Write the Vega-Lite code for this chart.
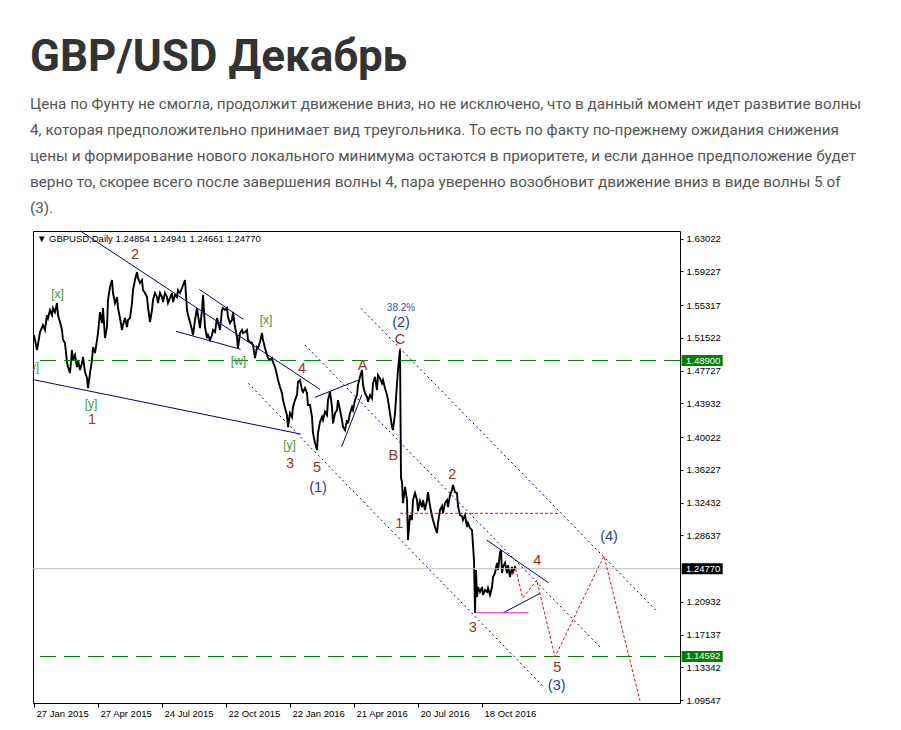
{
"$schema": "https://vega.github.io/schema/vega-lite/v6.json",
"width": 647, "height": 472,
"autosize": {"type": "none"},
"padding": {"left": 33, "top": 231, "right": 221, "bottom": 27},
"background": "#ffffff",
"title": {
 "text": "GBP/USD Декабрь",
 "subtitle": ["Цена по Фунту не смогла, продолжит движение вниз, но не исключено, что в данный момент идет развитие волны", "4, которая предположительно принимает вид треугольника.  То есть по факту по-прежнему ожидания снижения", "цены и формирование нового локального минимума остаются в приоритете, и если данное предположение будет", "верно то, скорее всего после завершения волны 4, пара уверенно возобновит движение вниз в виде волны 5 of", "(3)."],
 "anchor": "start", "frame": "group", "orient": "top",
 "font": "Roboto", "fontSize": 44, "fontWeight": "bold", "color": "#333333",
 "subtitleFont": "Roboto", "subtitleFontSize": 15.3, "subtitleColor": "#555555", "subtitleLineHeight": 26, "subtitlePadding": 17,
 "offset": 14, "dx": -3
},
"config": {
 "view": {"stroke": "#000000", "strokeWidth": 1, "fill": "#ffffff"},
 "axis": {"domain": false, "grid": false, "labelFont": "Liberation Sans", "labelFontSize": 9.5, "labelColor": "#000000", "tickColor": "#000000", "labelFlush": false, "labelOverlap": false, "labelBound": false}
},
"datasets": {
 "price": [
{"b":0,"p":1.5186},{"b":2,"p":1.5070},{"b":3,"p":1.5012},{"b":6,"p":1.5221},{"b":9,"p":1.5302},{"b":11,"p":1.5244},{"b":13,"p":1.5418},{"b":14,"p":1.5383},{"b":16,"p":1.5476},{"b":18,"p":1.5418},{"b":19,"p":1.5499},{"b":21,"p":1.5452},{"b":23,"p":1.5557},{"b":24,"p":1.5418},{"b":26,"p":1.5337},{"b":28,"p":1.5244},{"b":29,"p":1.5128},{"b":31,"p":1.5093},{"b":33,"p":1.4873},{"b":34,"p":1.4815},{"b":36,"p":1.4745},{"b":38,"p":1.5012},{"b":39,"p":1.4896},{"b":41,"p":1.4954},{"b":43,"p":1.4815},{"b":44,"p":1.4896},{"b":46,"p":1.4780},{"b":48,"p":1.4861},{"b":49,"p":1.4931},{"b":51,"p":1.4757},{"b":53,"p":1.4687},{"b":54,"p":1.4571},{"b":56,"p":1.4745},{"b":58,"p":1.4896},{"b":59,"p":1.5047},{"b":61,"p":1.4977},{"b":63,"p":1.5128},{"b":64,"p":1.5209},{"b":66,"p":1.5452},{"b":68,"p":1.5325},{"b":69,"p":1.5499},{"b":71,"p":1.5151},{"b":73,"p":1.5279},{"b":74,"p":1.5592},{"b":76,"p":1.5742},{"b":78,"p":1.5823},{"b":79,"p":1.5673},{"b":81,"p":1.5557},{"b":83,"p":1.5626},{"b":84,"p":1.5499},{"b":86,"p":1.5383},{"b":88,"p":1.5244},{"b":89,"p":1.5302},{"b":91,"p":1.5383},{"b":93,"p":1.5279},{"b":94,"p":1.5360},
{"b":96,"p":1.5383},{"b":98,"p":1.5557},{"b":99,"p":1.5708},{"b":101,"p":1.5823},{"b":103,"p":1.5916},{"b":104,"p":1.5847},{"b":106,"p":1.5789},{"b":108,"p":1.5823},{"b":109,"p":1.5708},{"b":111,"p":1.5673},{"b":113,"p":1.5626},{"b":114,"p":1.5510},{"b":116,"p":1.5337},{"b":118,"p":1.5476},{"b":119,"p":1.5592},{"b":121,"p":1.5673},{"b":123,"p":1.5626},{"b":124,"p":1.5557},{"b":126,"p":1.5673},{"b":128,"p":1.5626},{"b":129,"p":1.5568},{"b":131,"p":1.5673},{"b":133,"p":1.5626},{"b":134,"p":1.5557},{"b":136,"p":1.5615},{"b":138,"p":1.5673},{"b":139,"p":1.5568},{"b":141,"p":1.5650},{"b":143,"p":1.5626},{"b":144,"p":1.5708},{"b":146,"p":1.5673},{"b":148,"p":1.5731},{"b":149,"p":1.5765},{"b":151,"p":1.5823},{"b":152,"p":1.5650},{"b":153,"p":1.5476},{"b":154,"p":1.5418},{"b":156,"p":1.5337},{"b":158,"p":1.5244},{"b":159,"p":1.5186},{"b":161,"p":1.5360},{"b":163,"p":1.5499},{"b":164,"p":1.5418},{"b":166,"p":1.5267},{"b":168,"p":1.5476},{"b":169,"p":1.5650},{"b":171,"p":1.5279},{"b":173,"p":1.5151},{"b":174,"p":1.5186},{"b":176,"p":1.5128},{"b":178,"p":1.5186},{"b":179,"p":1.5244},{"b":181,"p":1.5221},{"b":183,"p":1.5383},{"b":184,"p":1.5337},{"b":186,"p":1.5244},{"b":188,"p":1.5476},{"b":189,"p":1.5499},
{"b":191,"p":1.5476},{"b":193,"p":1.5499},{"b":194,"p":1.5394},{"b":196,"p":1.5325},{"b":198,"p":1.5360},{"b":199,"p":1.5452},{"b":201,"p":1.5279},{"b":203,"p":1.5163},{"b":204,"p":1.5035},{"b":206,"p":1.5209},{"b":208,"p":1.5244},{"b":209,"p":1.5209},{"b":211,"p":1.5221},{"b":213,"p":1.5244},{"b":214,"p":1.5128},{"b":216,"p":1.5105},{"b":218,"p":1.5093},{"b":219,"p":1.5070},{"b":221,"p":1.4919},{"b":223,"p":1.5047},{"b":224,"p":1.5035},{"b":226,"p":1.5105},{"b":228,"p":1.5209},{"b":229,"p":1.5128},{"b":231,"p":1.5035},{"b":233,"p":1.4954},{"b":234,"p":1.4919},{"b":236,"p":1.4896},{"b":238,"p":1.4919},{"b":239,"p":1.4873},{"b":241,"p":1.4815},{"b":243,"p":1.4722},{"b":244,"p":1.4664},{"b":246,"p":1.4583},{"b":248,"p":1.4513},{"b":249,"p":1.4432},{"b":251,"p":1.4340},{"b":253,"p":1.4258},{"b":254,"p":1.4119},{"b":256,"p":1.4282},{"b":258,"p":1.4235},{"b":259,"p":1.4351},{"b":261,"p":1.4432},{"b":263,"p":1.4490},{"b":264,"p":1.4641},{"b":266,"p":1.4664},{"b":268,"p":1.4548},{"b":269,"p":1.4525},{"b":271,"p":1.4571},{"b":273,"p":1.4513},{"b":274,"p":1.4374},{"b":276,"p":1.4374},{"b":278,"p":1.4235},{"b":279,"p":1.4050},{"b":281,"p":1.3934},{"b":283,"p":1.3853},{"b":284,"p":1.4050},{"b":286,"p":1.4177},
{"b":288,"p":1.4239},{"b":289,"p":1.4200},{"b":291,"p":1.4297},{"b":293,"p":1.4258},{"b":294,"p":1.4432},{"b":296,"p":1.4528},{"b":298,"p":1.4351},{"b":299,"p":1.4162},{"b":301,"p":1.4278},{"b":303,"p":1.4316},{"b":304,"p":1.4432},{"b":306,"p":1.4316},{"b":308,"p":1.4200},{"b":309,"p":1.4123},{"b":311,"p":1.4084},{"b":313,"p":1.4200},{"b":314,"p":1.4162},{"b":316,"p":1.4278},{"b":318,"p":1.4351},{"b":319,"p":1.4316},{"b":321,"p":1.4432},{"b":323,"p":1.4490},{"b":324,"p":1.4606},{"b":326,"p":1.4702},{"b":328,"p":1.4780},{"b":329,"p":1.4606},{"b":331,"p":1.4510},{"b":333,"p":1.4471},{"b":334,"p":1.4413},{"b":336,"p":1.4490},{"b":338,"p":1.4451},{"b":339,"p":1.4626},{"b":341,"p":1.4702},{"b":343,"p":1.4548},{"b":344,"p":1.4722},{"b":346,"p":1.4684},{"b":348,"p":1.4626},{"b":349,"p":1.4664},{"b":351,"p":1.4568},{"b":353,"p":1.4490},{"b":354,"p":1.4432},{"b":356,"p":1.4278},{"b":358,"p":1.4123},{"b":359,"p":1.4084},{"b":361,"p":1.4278},{"b":363,"p":1.4626},{"b":364,"p":1.4780},{"b":366,"p":1.5018},
{"b":367,"p":1.3528},{"b":368,"p":1.3482},{"b":369,"p":1.3238},{"b":371,"p":1.3424},{"b":373,"p":1.3273},{"b":374,"p":1.2809},{"b":376,"p":1.3099},{"b":378,"p":1.3041},{"b":379,"p":1.3273},{"b":381,"p":1.3354},{"b":383,"p":1.3273},{"b":384,"p":1.3145},{"b":386,"p":1.3262},{"b":388,"p":1.3192},{"b":389,"p":1.3273},{"b":391,"p":1.3157},{"b":393,"p":1.3273},{"b":394,"p":1.3366},{"b":396,"p":1.3203},{"b":398,"p":1.3087},{"b":399,"p":1.3041},{"b":401,"p":1.2960},{"b":403,"p":1.2890},{"b":404,"p":1.3006},{"b":406,"p":1.3157},{"b":408,"p":1.3203},{"b":409,"p":1.3122},{"b":411,"p":1.3238},{"b":413,"p":1.3273},{"b":414,"p":1.3192},{"b":416,"p":1.3331},{"b":418,"p":1.3389},{"b":419,"p":1.3447},{"b":421,"p":1.3366},{"b":423,"p":1.3354},{"b":424,"p":1.3203},{"b":426,"p":1.3099},{"b":428,"p":1.3087},{"b":429,"p":1.3041},{"b":431,"p":1.3099},{"b":433,"p":1.2960},{"b":434,"p":1.3006},{"b":436,"p":1.2948},{"b":438,"p":1.2925},{"b":439,"p":1.2751},{"b":440,"p":1.2577},{"b":441,"p":1.1963},{"b":442,"p":1.2461},{"b":443,"p":1.2149},{"b":444,"p":1.2265},{"b":446,"p":1.2207},{"b":448,"p":1.2265},{"b":449,"p":1.2172},{"b":451,"p":1.2230},{"b":453,"p":1.2207},{"b":454,"p":1.2253},{"b":456,"p":1.2172},{"b":458,"p":1.2265},{"b":459,"p":1.2380},{"b":461,"p":1.2427},{"b":463,"p":1.2543},{"b":464,"p":1.2461},{"b":466,"p":1.2658},{"b":467,"p":1.2693},{"b":468,"p":1.2427},{"b":469,"p":1.2496},{"b":471,"p":1.2543},{"b":473,"p":1.2427},{"b":474,"p":1.2519},{"b":476,"p":1.2380},{"b":478,"p":1.2496},{"b":479,"p":1.2438},{"b":481,"p":1.2496},{"b":482,"p":1.2477}
 ],
 "levels": [{"p": 1.489}, {"p": 1.14592}],
 "current": [{"p": 1.2477}],
 "dotted": [
  {"b1": 327, "p1": 1.5495, "b2": 622.7, "p2": 1.1986},
  {"b1": 271, "p1": 1.5070, "b2": 568, "p2": 1.1546},
  {"b1": 214.3, "p1": 1.4626, "b2": 511, "p2": 1.1090}
 ],
 "solid": [
  {"b1": 46, "p1": 1.6395, "b2": 286, "p2": 1.4556},
  {"b1": -1, "p1": 1.4669, "b2": 266.7, "p2": 1.4038},
  {"b1": 165.3, "p1": 1.5716, "b2": 209.3, "p2": 1.5368},
  {"b1": 142, "p1": 1.5229, "b2": 206.7, "p2": 1.5020},
  {"b1": 281, "p1": 1.4464, "b2": 324.3, "p2": 1.4664},
  {"b1": 307.7, "p1": 1.3891, "b2": 327.7, "p2": 1.4490},
  {"b1": 452.7, "p1": 1.2809, "b2": 514.5, "p2": 1.2314},
  {"b1": 469.3, "p1": 1.1966, "b2": 506, "p2": 1.2191}
 ],
 "support": [{"b1": 441, "b2": 494.5, "p": 1.1966}],
 "target": [{"b1": 366, "b2": 526, "p": 1.3119}],
 "projection": [
  {"b": 481.7, "p": 1.2473}, {"b": 488.7, "p": 1.2137}, {"b": 502.7, "p": 1.2345},
  {"b": 521, "p": 1.1456}, {"b": 570, "p": 1.2624}, {"b": 606, "p": 1.0946}
 ],
 "waves": [
  {"b": -2.5, "p": 1.4815, "t": "[w]", "deg": "sub"},
  {"b": 23.5, "p": 1.5667, "t": "[x]", "deg": "sub"},
  {"b": 57, "p": 1.4392, "t": "[y]", "deg": "sub"},
  {"b": 58, "p": 1.4200, "t": "1", "deg": "minor"},
  {"b": 101, "p": 1.6113, "t": "2", "deg": "minor"},
  {"b": 204.5, "p": 1.4884, "t": "[w]", "deg": "sub"},
  {"b": 232, "p": 1.5365, "t": "[x]", "deg": "sub"},
  {"b": 255.5, "p": 1.3911, "t": "[y]", "deg": "sub"},
  {"b": 256, "p": 1.3690, "t": "3", "deg": "minor"},
  {"b": 268, "p": 1.4792, "t": "4", "deg": "minor"},
  {"b": 283, "p": 1.3640, "t": "5", "deg": "minor"},
  {"b": 284, "p": 1.3418, "t": "(1)", "deg": "inter"},
  {"b": 328.5, "p": 1.4826, "t": "A", "deg": "minor"},
  {"b": 359.3, "p": 1.3789, "t": "B", "deg": "minor"},
  {"b": 366, "p": 1.5128, "t": "C", "deg": "minor"},
  {"b": 367, "p": 1.5328, "t": "(2)", "deg": "inter"},
  {"b": 367, "p": 1.5502, "t": "38.2%", "deg": "fib"},
  {"b": 365.3, "p": 1.2995, "t": "1", "deg": "minor"},
  {"b": 418.3, "p": 1.3563, "t": "2", "deg": "minor"},
  {"b": 438.7, "p": 1.1786, "t": "3", "deg": "minor"},
  {"b": 503.3, "p": 1.2566, "t": "4", "deg": "minor"},
  {"b": 523.3, "p": 1.1322, "t": "5", "deg": "minor"},
  {"b": 522.7, "p": 1.1112, "t": "(3)", "deg": "inter"},
  {"b": 575, "p": 1.2848, "t": "(4)", "deg": "inter"}
 ],
 "header": [
  {"b": 3, "p": 1.6304, "t": "▼"},
  {"b": 15, "p": 1.6304, "t": "GBPUSD,Daily  1.24854 1.24941 1.24661 1.24770"}
 ],
 "tags": [
  {"p": 1.489, "t": "1.48900", "kind": "level"},
  {"p": 1.2477, "t": "1.24770", "kind": "price"},
  {"p": 1.14592, "t": "1.14592", "kind": "level"}
 ]
},
"layer": [
 {"data": {"name": "price"}, "mark": {"type": "line", "color": "#000000", "strokeWidth": 1.9},
  "encoding": {
   "x": {"field": "b", "type": "quantitative", "scale": {"domain": [-1, 646], "nice": false, "zero": false},
    "axis": {"orient": "bottom", "title": null, "values": [0, 64, 128, 192, 256, 320, 384, 448], "tickCount": 20,
     "labelExpr": "datum.value==0?'27 Jan 2015':datum.value==64?'27 Apr 2015':datum.value==128?'24 Jul 2015':datum.value==192?'22 Oct 2015':datum.value==256?'22 Jan 2016':datum.value==320?'21 Apr 2016':datum.value==384?'20 Jul 2016':'18 Oct 2016'",
     "labelAlign": "left", "labelOffset": 2, "tickSize": 4, "labelPadding": 1, "labelOverlap": false}},
   "y": {"field": "p", "type": "quantitative", "scale": {"domain": [1.092, 1.6392], "nice": false, "zero": false},
    "axis": {"orient": "right", "title": null, "values": [1.63022, 1.59227, 1.55317, 1.51522, 1.47727, 1.43932, 1.40022, 1.36227, 1.32432, 1.28637, 1.20932, 1.17137, 1.13342, 1.09547], "tickCount": 30,
     "format": ".5f", "tickSize": 3, "labelPadding": 3, "labelAlign": "left", "labelOverlap": false, "labelBound": false}}
  }},
 {"data": {"name": "current"}, "mark": {"type": "rule", "color": "#c0c0c0", "strokeWidth": 1},
  "encoding": {"y": {"field": "p", "type": "quantitative"}}},
 {"data": {"name": "levels"}, "mark": {"type": "rule", "color": "#008000", "strokeWidth": 1, "strokeDash": [16, 8]},
  "encoding": {"y": {"field": "p", "type": "quantitative"}}},
 {"data": {"name": "dotted"}, "mark": {"type": "rule", "color": "#000080", "strokeWidth": 1, "strokeDash": [2, 3]},
  "encoding": {"x": {"field": "b1", "type": "quantitative"}, "x2": {"field": "b2"}, "y": {"field": "p1", "type": "quantitative"}, "y2": {"field": "p2"}}},
 {"data": {"name": "solid"}, "mark": {"type": "rule", "color": "#000080", "strokeWidth": 1},
  "encoding": {"x": {"field": "b1", "type": "quantitative"}, "x2": {"field": "b2"}, "y": {"field": "p1", "type": "quantitative"}, "y2": {"field": "p2"}}},
 {"data": {"name": "support"}, "mark": {"type": "rule", "color": "#e020e0", "strokeWidth": 1},
  "encoding": {"x": {"field": "b1", "type": "quantitative"}, "x2": {"field": "b2"}, "y": {"field": "p", "type": "quantitative"}}},
 {"data": {"name": "target"}, "mark": {"type": "rule", "color": "#ff0000", "strokeWidth": 1, "strokeDash": [3, 2]},
  "encoding": {"x": {"field": "b1", "type": "quantitative"}, "x2": {"field": "b2"}, "y": {"field": "p", "type": "quantitative"}}},
 {"data": {"name": "projection"}, "mark": {"type": "line", "color": "#ff0000", "strokeWidth": 1, "strokeDash": [3, 2]},
  "encoding": {"x": {"field": "b", "type": "quantitative"}, "y": {"field": "p", "type": "quantitative"}}},
 {"mark": {"type": "rule", "color": "#000000", "strokeWidth": 3},
  "encoding": {"x": {"datum": 646, "type": "quantitative"}, "y": {"datum": 1.3623, "type": "quantitative"}, "y2": {"datum": 1.092}}},
 {"data": {"name": "waves"}, "mark": {"type": "text", "font": "Liberation Sans", "align": "center", "baseline": "middle", "clip": true},
  "encoding": {
   "x": {"field": "b", "type": "quantitative"},
   "y": {"field": "p", "type": "quantitative"},
   "text": {"field": "t"},
   "color": {"field": "deg", "type": "nominal", "legend": null, "scale": {"domain": ["sub", "minor", "inter", "fib", "level", "price"], "range": ["#3a9b3a", "#a03020", "#1f3c98", "#3355bb", "#008000", "#000000"]}},
   "size": {"field": "deg", "type": "nominal", "legend": null, "scale": {"type": "ordinal", "domain": ["sub", "minor", "inter", "fib"], "range": [12, 14.5, 14.5, 10]}}
  }},
 {"data": {"name": "header"}, "mark": {"type": "text", "font": "Liberation Sans", "fontSize": 9.5, "align": "left", "baseline": "middle", "color": "#000000"},
  "encoding": {"x": {"field": "b", "type": "quantitative"}, "y": {"field": "p", "type": "quantitative"}, "text": {"field": "t"}}},
 {"data": {"name": "tags"}, "mark": {"type": "point", "filled": true, "opacity": 1, "shape": "M-1,-0.27L1,-0.27L1,0.27L-1,0.27Z", "size": 1681, "strokeWidth": 0},
  "encoding": {"x": {"datum": 668.2, "type": "quantitative"}, "y": {"field": "p", "type": "quantitative"},
   "color": {"field": "kind", "type": "nominal", "legend": null, "scale": {"domain": ["sub", "minor", "inter", "fib", "level", "price"], "range": ["#3a9b3a", "#a03020", "#1f3c98", "#3355bb", "#008000", "#000000"]}}}},
 {"data": {"name": "tags"}, "mark": {"type": "text", "font": "Liberation Sans", "fontSize": 9.5, "align": "left", "baseline": "middle", "color": "#ffffff"},
  "encoding": {"x": {"datum": 652, "type": "quantitative"}, "y": {"field": "p", "type": "quantitative"}, "text": {"field": "t"}}}
]
}
